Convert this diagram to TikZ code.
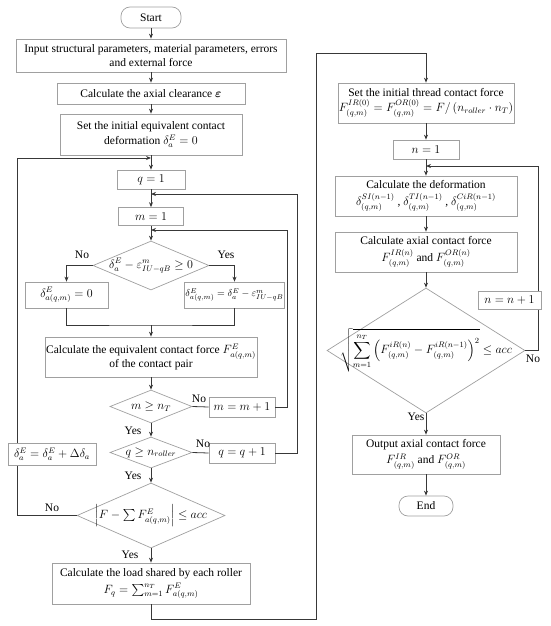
\documentclass[tikz,border=0pt]{standalone}
\usepackage{amsmath}
\usepackage{fontspec}
\setmainfont{Liberation Serif}
\usetikzlibrary{shapes.geometric,arrows.meta}
\definecolor{boxgray}{HTML}{A0A0A0}
\definecolor{linegray}{HTML}{383838}
\tikzset{
  bx/.style 2 args={draw=boxgray, fill=white, rectangle, line width=0.7pt, minimum width=#1, minimum height=#2, inner sep=1pt, align=center},
  term/.style 2 args={bx={#1}{#2}, rounded corners=9pt},
  dm/.style 2 args={draw=boxgray, fill=white, diamond, line width=0.7pt, minimum width=#1, minimum height=#2, inner sep=0pt},
  arr/.style={draw=linegray, line width=0.8pt, -{Stealth[length=5pt,width=4pt]}},
  ln/.style={draw=linegray, line width=0.8pt},
  lbl/.style={inner sep=0pt}
}
\begin{document}
\begin{tikzpicture}[x=1pt,y=-1pt,font=\fontsize{11.5}{14}\selectfont]
\useasboundingbox (0,0) rectangle (550,626);
% left column
\node[term={60pt}{21pt}] (start) at (151,17.5) {Start};
\node[bx={270pt}{33pt}] (input) at (151,55.5) {Input structural parameters, material parameters, errors\\and external force};
\node[bx={188pt}{21pt}] (clear) at (151,93.5) {Calculate the axial clearance $\boldsymbol{\varepsilon}$};
\node[bx={182pt}{41pt}] (setinit) at (151,134.5) {Set the initial equivalent contact\\[1pt]deformation $\delta_a^E=0$};
\node[bx={68pt}{19pt}] (q1) at (151,179.5) {$q=1$};
\node[bx={65pt}{18pt}] (m1) at (151,216.5) {$m=1$};
\node[dm={116pt}{49pt}] (d1) at (151,265.5) {\makebox[0pt]{$\delta_a^E-\varepsilon^m_{IU-qB}\geq 0$}};
\node[bx={83pt}{26pt}] (a0) at (66.5,295) {$\delta^E_{a(q,m)}=0$};
\node[bx={93pt}{26pt}, font=\fontsize{10}{12}\selectfont] (a1) at (234.5,295) {$\delta^E_{a(q,m)}=\delta^E_a-\varepsilon^m_{IU-qB}$};
\node[bx={208pt}{40pt}] (eqf) at (151,357) {Calculate the equivalent contact force $F^E_{a(q,m)}$\\of the contact pair};
\node[dm={82pt}{33pt}] (d2) at (151,406.5) {\makebox[0pt]{$m\geq n_T$}};
\node[bx={66pt}{20pt}] (mm1) at (242,407) {$m=m+1$};
\node[dm={82pt}{31pt}] (d3) at (151,452.5) {\makebox[0pt]{$q\geq n_{roller}$}};
\node[bx={66pt}{20pt}] (qq1) at (242,453) {$q=q+1$};
\node[dm={148pt}{65pt}] (d4) at (151,515.5) {\makebox[0pt]{$\left|F-\sum F^E_{a(q,m)}\right|\leq acc$}};
\node[bx={198pt}{41pt}] (load) at (151,583.5) {Calculate the load shared by each roller\\[3pt]$F_q=\sum_{m=1}^{n_T}F^E_{a(q,m)}$};
% right column
\node[bx={172pt}{40pt}] (thread) at (426,103) {Set the initial thread contact force\\[1pt]$F^{IR(0)}_{(q,m)}=F^{OR(0)}_{(q,m)}=F/\left(n_{roller}\cdot n_T\right)$};
\node[bx={66pt}{19pt}] (n1) at (426,149.5) {$n=1$};
\node[bx={182pt}{40pt}] (deform) at (426,196) {Calculate the deformation\\[3pt]$\delta^{SI(n-1)}_{(q,m)}$ , $\delta^{TI(n-1)}_{(q,m)}$ , $\delta^{CiR(n-1)}_{(q,m)}$};
\node[bx={182pt}{40pt}] (axial) at (426,252) {Calculate axial contact force\\[3pt]$F^{IR(n)}_{(q,m)}$ and $F^{OR(n)}_{(q,m)}$};
\node[dm={198pt}{125pt}] (d5) at (426,350.5) {\makebox[0pt]{$\sqrt{\displaystyle\sum_{m=1}^{n_T}\left(F^{iR(n)}_{(q,m)}-F^{iR(n-1)}_{(q,m)}\right)^2}\leq acc$}};
\node[bx={148pt}{39pt}] (output) at (426,454.5) {Output axial contact force\\[2pt]$F^{IR}_{(q,m)}$ and $F^{OR}_{(q,m)}$};
\node[term={54pt}{20pt}] (end) at (426,506) {End};
% labels
\node[lbl] (no1) at (82,255) {No};
\node[lbl] (yes1) at (226,255) {Yes};
\node[lbl] (no2) at (199,399) {No};
\node[lbl] (yes2) at (133,431) {Yes};
\node[lbl] (no3) at (203,444) {No};
\node[lbl] (yes3) at (133,476) {Yes};
\node[lbl] (no4) at (52,508) {No};
\node[lbl] (yes4) at (130,555) {Yes};
\node[lbl] (no5) at (533,359) {No};
\node[lbl] (yes5) at (416,417) {Yes};
% junctions
\coordinate (j1) at (151,158);
\coordinate (j2) at (151,194);
\coordinate (j3) at (151,230);
\coordinate (j4) at (426,166);
\coordinate (jm) at (151,325);
\coordinate (b1) at (316,619);
\coordinate (b2) at (316,53);
\coordinate (lx) at (17,515.5);
\coordinate (mx) at (287,407);
\coordinate (qx) at (297,453);
\coordinate (nx) at (538,350.5);
% connectors
\draw[arr] (start) -- (input);
\draw[arr] (input) -- (clear);
\draw[arr] (clear) -- (setinit);
\draw[arr] (setinit) -- (q1);
\draw[arr] (q1) -- (m1);
\draw[arr] (m1) -- (d1);
\draw[arr] (d1.west) -| (a0.north);
\draw[arr] (d1.east) -| (a1.north);
\draw[ln] (a0.south) |- (jm) -| (a1.south);
\draw[arr] (jm) -- (eqf.north);
\draw[arr] (eqf) -- (d2);
\draw[ln] (d2.east) -- (mm1.west);
\draw[arr] (d2) -- (d3);
\draw[ln] (d3.east) -- (qq1.west);
\draw[arr] (d3) -- (d4);
\draw[arr] (d4) -- (load);
\draw[arr] (mm1.east) -- (mx) |- (j3);
\draw[arr] (qq1.east) -- (qx) |- (j2);
\draw[arr] (d4.west) -- (lx) |- (j1);
\draw[arr] (load.south) |- (b1) -- (b2) -| (thread.north);
\draw[arr] (thread) -- (n1);
\draw[arr] (n1) -- (deform);
\draw[arr] (deform) -- (axial);
\draw[arr] (axial) -- (d5);
\draw[arr] (d5.east) -- (nx) |- (j4);
\draw[arr] (d5) -- (output);
\draw[arr] (output) -- (end);
% boxes lying over loop lines
\node[bx={88pt}{22pt}] (dd) at (52,454) {$\delta_a^E=\delta_a^E+\Delta\delta_a$};
\node[bx={63pt}{18pt}] (nn1) at (509.5,300) {$n=n+1$};
\end{tikzpicture}
\end{document}
